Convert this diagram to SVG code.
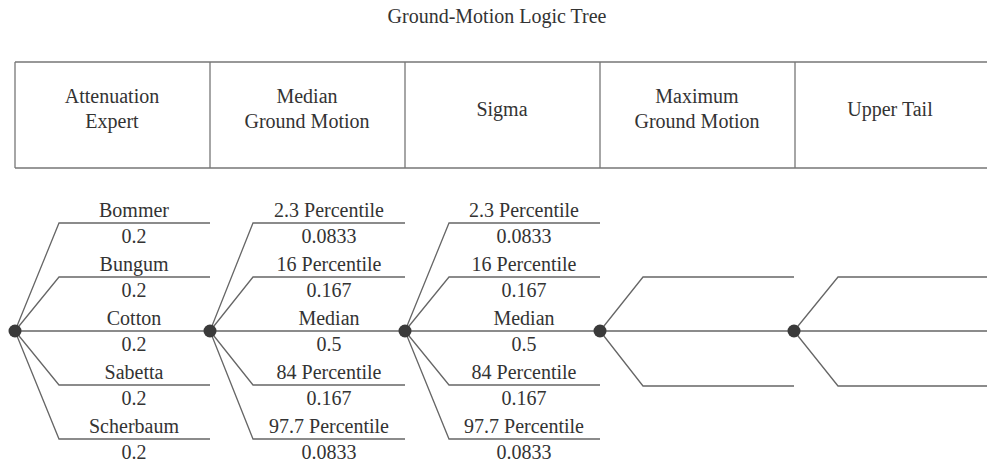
<svg xmlns="http://www.w3.org/2000/svg" width="987" height="464" viewBox="0 0 987 464">
<rect width="987" height="464" fill="#fff"/>
<text x="497" y="23" font-family="Liberation Serif" font-size="20" fill="#333" text-anchor="middle">Ground-Motion Logic Tree</text>
<g id="header" font-family="Liberation Serif" font-size="20" fill="#333" text-anchor="middle">
<path stroke="#777" stroke-width="1.3" fill="none" d="M15 62H987M15 168H987M15 62V168M210 62V168M405 62V168M600 62V168M795 62V168"/>
<text x="112" y="103" font-family="Liberation Serif">Attenuation</text><text x="112" y="128" font-family="Liberation Serif">Expert</text>
<text x="307" y="103" font-family="Liberation Serif">Median</text><text x="307" y="128" font-family="Liberation Serif">Ground Motion</text>
<text x="502" y="116" font-family="Liberation Serif">Sigma</text>
<text x="697" y="103" font-family="Liberation Serif">Maximum</text><text x="697" y="128" font-family="Liberation Serif">Ground Motion</text>
<text x="890" y="116" font-family="Liberation Serif">Upper Tail</text>
</g>
<g id="connectors" stroke="#666" stroke-width="1.3" fill="none">
<path d="M15 331L59 223H210M15 331L59 277H210M15 331H210M15 331L59 385H210M15 331L59 439H210"/>
<path d="M210 331L253 223H405M210 331L253 277H405M210 331H405M210 331L253 385H405M210 331L253 439H405"/>
<path d="M405 331L449 223H600M405 331L449 277H600M405 331H600M405 331L449 385H600M405 331L449 439H600"/>
<path d="M600 331L643 277H794M600 331H794M600 331L643 386H794"/>
<path d="M794 331L838 277H987M794 331H987M794 331L838 386H987"/>
</g>
<g id="node-expert" font-family="Liberation Serif" font-size="20" fill="#333" text-anchor="middle"><circle fill="#3a3a3a" cx="15" cy="331" r="6.5"/>
<text x="134" y="216.5" font-family="Liberation Serif">Bommer</text><text x="134" y="243" font-family="Liberation Serif">0.2</text>
<text x="134" y="270.5" font-family="Liberation Serif">Bungum</text><text x="134" y="297" font-family="Liberation Serif">0.2</text>
<text x="134" y="324.5" font-family="Liberation Serif">Cotton</text><text x="134" y="351" font-family="Liberation Serif">0.2</text>
<text x="134" y="378.5" font-family="Liberation Serif">Sabetta</text><text x="134" y="405" font-family="Liberation Serif">0.2</text>
<text x="134" y="432.5" font-family="Liberation Serif">Scherbaum</text><text x="134" y="459" font-family="Liberation Serif">0.2</text>
</g>
<g id="node-median" font-family="Liberation Serif" font-size="20" fill="#333" text-anchor="middle"><circle fill="#3a3a3a" cx="210" cy="331" r="6.5"/>
<text x="329" y="216.5" font-family="Liberation Serif">2.3 Percentile</text><text x="329" y="243" font-family="Liberation Serif">0.0833</text>
<text x="329" y="270.5" font-family="Liberation Serif">16 Percentile</text><text x="329" y="297" font-family="Liberation Serif">0.167</text>
<text x="329" y="324.5" font-family="Liberation Serif">Median</text><text x="329" y="351" font-family="Liberation Serif">0.5</text>
<text x="329" y="378.5" font-family="Liberation Serif">84 Percentile</text><text x="329" y="405" font-family="Liberation Serif">0.167</text>
<text x="329" y="432.5" font-family="Liberation Serif">97.7 Percentile</text><text x="329" y="459" font-family="Liberation Serif">0.0833</text>
</g>
<g id="node-sigma" font-family="Liberation Serif" font-size="20" fill="#333" text-anchor="middle"><circle fill="#3a3a3a" cx="405" cy="331" r="6.5"/>
<text x="524" y="216.5" font-family="Liberation Serif">2.3 Percentile</text><text x="524" y="243" font-family="Liberation Serif">0.0833</text>
<text x="524" y="270.5" font-family="Liberation Serif">16 Percentile</text><text x="524" y="297" font-family="Liberation Serif">0.167</text>
<text x="524" y="324.5" font-family="Liberation Serif">Median</text><text x="524" y="351" font-family="Liberation Serif">0.5</text>
<text x="524" y="378.5" font-family="Liberation Serif">84 Percentile</text><text x="524" y="405" font-family="Liberation Serif">0.167</text>
<text x="524" y="432.5" font-family="Liberation Serif">97.7 Percentile</text><text x="524" y="459" font-family="Liberation Serif">0.0833</text>
</g>
<g id="node-max"><circle fill="#3a3a3a" cx="600" cy="331" r="6.5"/></g>
<g id="node-tail"><circle fill="#3a3a3a" cx="794" cy="331" r="6.5"/></g>
</svg>
